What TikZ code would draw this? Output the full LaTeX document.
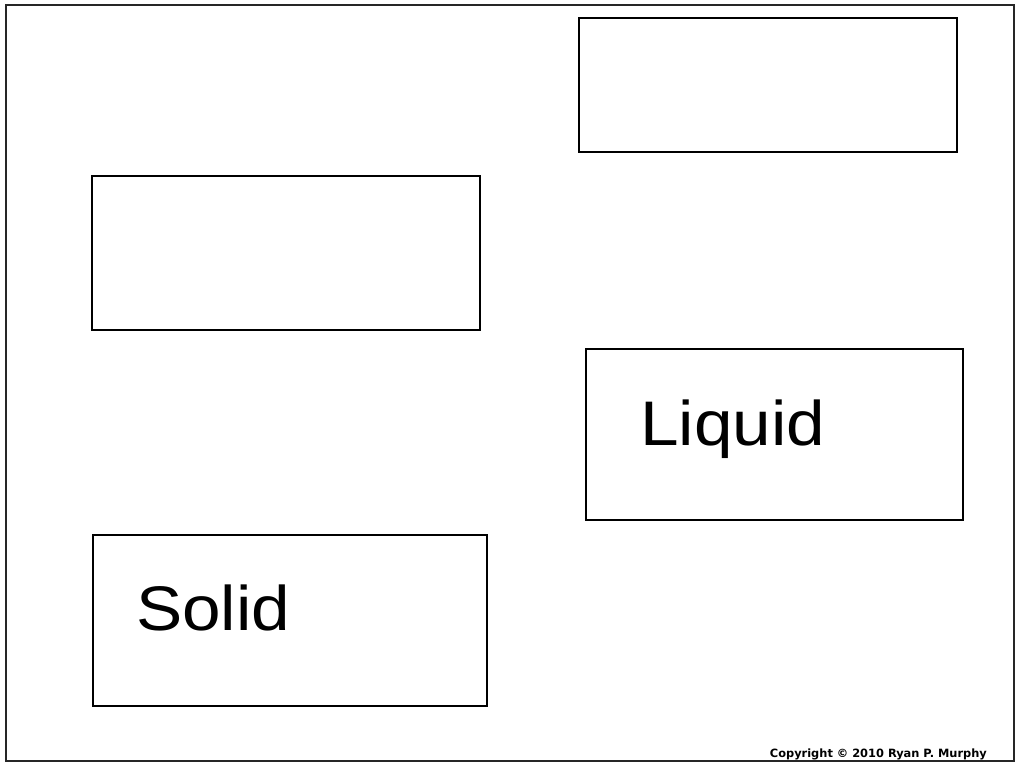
\documentclass[tikz,border=0pt]{standalone}
\usepackage{fontspec}
\setmainfont{Liberation Sans}
\newfontfamily\copyfont{DejaVu Sans}
\usepackage{tikz}
\usetikzlibrary{positioning}

\begin{document}
\begin{tikzpicture}[
        x=1pt, y=-1pt,
        card/.style={rectangle, draw, line width=1.2pt, inner sep=0pt},
        word/.style={anchor=base west, inner sep=0pt, xscale=1.1, font=\fontsize{63}{68}\selectfont},
        frame/.style={draw=black!85, line width=1.8pt}
        ]
        
        \useasboundingbox (0,0) rectangle (1024,768);
        
        % Outer frame
        \draw[frame] (6,5) rectangle (1014,761);
        
        % Empty cards
        \node[card, minimum width=378pt, minimum height=134pt] (topcard) at (768,85) {};
        \node[card, minimum width=388pt, minimum height=154pt] (leftcard) at (286,253) {};
        
        % Labelled cards
        \node[card, minimum width=377pt, minimum height=171pt] (liquidcard) at (774.5,434.5) {};
        \node[card, minimum width=394pt, minimum height=171pt] (solidcard) at (290,620.5) {};
        \node[word] (liquid) at (640,445) {Liquid};
        \node[word] (solid) at (136,630) {Solid};
        
        % Copyright
        \node[anchor=base east, inner sep=0pt, font=\copyfont\bfseries\fontsize{11.4}{13}\selectfont] (copy) at (987,757) {Copyright © 2010 Ryan P. Murphy};
        
    \end{tikzpicture}
\end{document}
